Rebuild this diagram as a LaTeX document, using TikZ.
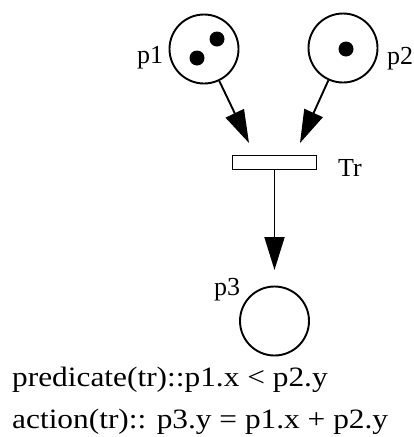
\documentclass[tikz,border=0pt]{standalone}
\usepackage{fontspec}
\setmainfont{Liberation Serif}
\usepackage{graphicx}
\usetikzlibrary{arrows.meta}

\newcommand{\stretched}[1]{\scalebox{1.12}[1]{#1}}

\tikzset{
    place/.style={circle, draw, line width=1.9pt, minimum size=69pt, inner sep=0pt},
    token/.style={circle, fill, minimum size=15pt, inner sep=0pt},
    transition/.style={rectangle, draw, line width=1.9pt, minimum width=84pt, minimum height=14pt, inner sep=0pt},
    arc/.style={line width=1.9pt, -{Triangle[length=33pt,width=20pt]}},
    lbl/.style={font=\fontsize{26}{30}\selectfont, inner sep=0pt, anchor=base west},
    guard/.style={font=\fontsize{28}{32}\selectfont, inner sep=0pt, anchor=base west}
}

\begin{document}
\begin{tikzpicture}[x=1pt, y=-1pt]
    \useasboundingbox (0,0) rectangle (414,437);
    % places and transition
    \node[place] (p1) at (204,49) {};
    \node[place] (p2) at (343,48) {};
    \node[place] (p3) at (274.5,321) {};
    \node[transition] (tr) at (274.5,162.5) {};
    % tokens
    \node[token] (p1a) at (217,39) {};
    \node[token] (p1b) at (197,58) {};
    \node[token] (p2a) at (346,49) {};
    % labels
    \node[lbl] (p1lbl) at (137,63) {p1};
    \node[lbl] (p2lbl) at (387,64) {p2};
    \node[lbl] (p3lbl) at (214,295) {p3};
    \node[lbl] (trlbl) at (338,176) {Tr};
    % arcs
    \coordinate (in1) at (249,143);
    \coordinate (in2) at (300,143);
    \coordinate (out) at (274.5,270);
    \draw[arc] (p1) -- (in1);
    \draw[arc] (p2) -- (in2);
    \draw[arc] (tr) -- (out);
    % inscriptions
    \node[guard] (pred) at (12,386) {\stretched{predicate(tr)::p1.x < p2.y}};
    \node[guard] (act) at (12,428) {\stretched{action(tr):: p3.y = p1.x + p2.y}};
\end{tikzpicture}
\end{document}
